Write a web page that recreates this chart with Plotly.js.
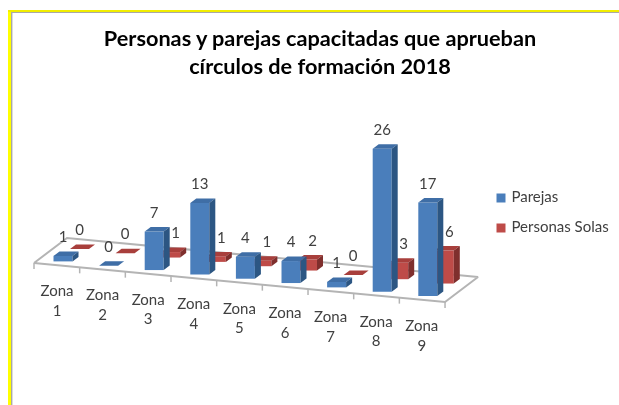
<!DOCTYPE html>
<html><head><meta charset="utf-8">
<script src="https://cdn.plot.ly/plotly-3.0.1.min.js"></script>
<style>html,body{margin:0;padding:0;background:#fff;overflow:hidden}#c{width:619px;height:405px;filter:blur(0.45px)}</style>
</head><body><div id="c"></div>
<script>
const categories = ["Zona 1","Zona 2","Zona 3","Zona 4","Zona 5","Zona 6","Zona 7","Zona 8","Zona 9"];
const parejas = [1,0,7,13,4,4,1,26,17];
const personasSolas = [0,0,1,1,1,2,0,3,6];
const seriesNames = ["Parejas","Personas Solas"];
const chartTitle = "Personas y parejas capacitadas que aprueban<br>círculos de formación 2018";

const W=619,H=405;
const pxPerCat=45.6, pxPerVal=5.5, x0px=63;
const xr=[(0-x0px)/pxPerCat,(W-x0px)/pxPerCat], yr=[0,H/pxPerVal];
const X=p=>(p-x0px)/pxPerCat, Y=p=>(H-p)/pxPerVal;
// oblique projection of the floor, in axis units
const floorAt=i=>Y(261.4)-i*4.33/pxPerVal;
const dDepth={x:33/pxPerCat,y:25/pxPerVal};
const barW=19/pxPerCat, thick={x:6/pxPerCat,y:4.5/pxPerVal};
const FONT="Lato, Carlito, sans-serif", TXT="#404040";

function poly(xs,ys,color,z){return {type:"scatter",mode:"lines",x:xs,y:ys,fill:"toself",fillcolor:color,
  line:{width:0,color:color},hoverinfo:"skip",showlegend:false,zorder:z};}

function series(vals,name,depth,c,z,labelDx){
  const out=[];
  const cx=vals.map((_,i)=>i+depth*dDepth.x);
  const base=vals.map((_,i)=>floorAt(i)+depth*dDepth.y);
  out.push({type:"bar",name:name,x:cx,y:vals,base:base,width:barW,marker:{color:c.front,line:{width:0}},
    showlegend:false,zorder:z,hovertemplate:name+": %{y}<extra></extra>"});
  vals.forEach((v,i)=>{
    const l=cx[i]-barW/2,r=cx[i]+barW/2,t=base[i]+v,b=base[i];
    out.push(poly([l,r,r+thick.x,l+thick.x,l],[t,t,t+thick.y,t+thick.y,t],c.top,z+1));
    if(v>0) out.push(poly([r,r+thick.x,r+thick.x,r,r],[b,b+thick.y,t+thick.y,t,b],c.side,z+1));
  });
  out.push({type:"scatter",mode:"text",x:cx.map((x,i)=>x+(vals[i]>0?labelDx:0)),y:base.map((b,i)=>b+vals[i]+17.5/pxPerVal),
    text:vals.map(String),textfont:{family:FONT,size:15,color:TXT},textposition:"middle center",hoverinfo:"skip",showlegend:false,zorder:5});
  return out;
}

// floor outline & ticks
const fx=[34,67,478,445,34].map(X), fy=[263,238,277,302,263].map(Y);
const floorTrace={type:"scatter",mode:"lines",x:fx,y:fy,line:{color:"#b4b4b4",width:2},hoverinfo:"skip",showlegend:false,zorder:-1};
const tx=[],ty=[];
categories.concat([""]).forEach((_,k)=>{const px=34+45.67*k,py=263+4.33*k;tx.push(X(px),X(px),null);ty.push(Y(py),Y(py+6),null);});
const tickTrace={type:"scatter",mode:"lines",x:tx,y:ty,line:{color:"#b4b4b4",width:1.5},hoverinfo:"skip",showlegend:false,zorder:-1};

const catLabels={type:"scatter",mode:"text",
  x:categories.map((_,i)=>i-6/pxPerCat),
  y:categories.map((_,i)=>Y(302+i*4.4)),
  text:categories.map(s=>s.replace(" ","<br>")),
  textposition:"middle center",textfont:{family:FONT,size:15,color:TXT},hoverinfo:"skip",showlegend:false,zorder:5};

const legendTrace={type:"scatter",mode:"markers+text",
  x:[X(501),X(501)],y:[Y(198),Y(228)],text:seriesNames.map(s=>"\u00a0"+s),textposition:"middle right",
  textfont:{family:FONT,size:15,color:TXT},
  marker:{symbol:"square",size:9,color:["#4a7ebb","#be4b48"]},hoverinfo:"skip",showlegend:false,zorder:5,cliponaxis:false};

const blue={front:"#4a7ebb",side:"#2c5683",top:"#3f6ea6"};
const red={front:"#be4b48",side:"#7f2f2d",top:"#a83f3c"};
const traces=[floorTrace,tickTrace]
  .concat(series(personasSolas,seriesNames[1],0.5,red,1,5/pxPerCat))
  .concat(series(parejas,seriesNames[0],0,blue,3,0))
  .concat([catLabels,legendTrace]);

const layout={width:W,height:H,margin:{l:0,r:0,t:0,b:0},paper_bgcolor:"#fff",plot_bgcolor:"rgba(0,0,0,0)",
  barmode:"overlay",showlegend:false,hovermode:"closest",
  xaxis:{range:xr,visible:false,fixedrange:true},
  yaxis:{range:yr,visible:false,fixedrange:true},
  title:{text:chartTitle,x:320/W,xanchor:"center",y:1-45.5/H,yanchor:"middle",font:{family:FONT,size:21.7,color:"#000",weight:700}},
  shapes:[
   {type:"line",xref:"paper",yref:"paper",x0:9.5/W,x1:9.5/W,y0:0,y1:1-10/H,line:{color:"#ffff00",width:3}},
   {type:"line",xref:"paper",yref:"paper",x0:8/W,x1:1,y0:1-11/H,y1:1-11/H,line:{color:"#f2ee00",width:2}},
   {type:"line",xref:"paper",yref:"paper",x0:11.7/W,x1:11.7/W,y0:0,y1:1-12.5/H,line:{color:"#a8a8a8",width:1.4}},
   {type:"line",xref:"paper",yref:"paper",x0:11/W,x1:1,y0:1-12.5/H,y1:1-12.5/H,line:{color:"#a8a8a8",width:1}}
  ]};
Plotly.newPlot("c",traces,layout,{displayModeBar:false});
</script></body></html>
